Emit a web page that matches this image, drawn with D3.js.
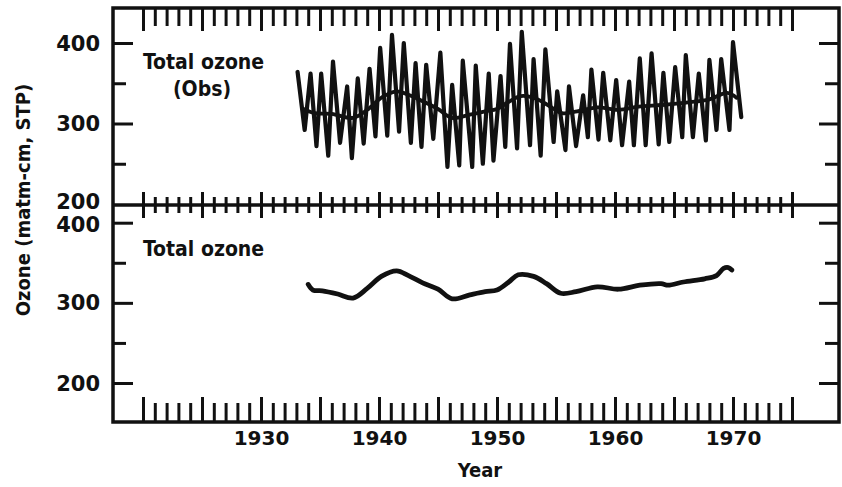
<!DOCTYPE html>
<html>
<head>
<meta charset="utf-8">
<script src="https://cdn.jsdelivr.net/npm/d3@7"></script>
<style>
  body { margin: 0; background: #fff; }
  svg { display: block; }
  .num { font-family: "DejaVu Sans", sans-serif; font-weight: bold; fill: #111; }
  .lbl { font-family: "DejaVu Sans Condensed", "DejaVu Sans", sans-serif; font-stretch: condensed; font-weight: bold; fill: #111; }
</style>
</head>
<body>
<div id="chart"></div>
<script>
const obsYear = [
  1933.1, 1933.7, 1934.2, 1934.7, 1935.1, 1935.7, 1936.1, 1936.7, 1937.3, 1937.7,
  1938.2, 1938.7, 1939.2, 1939.7, 1940.1, 1940.7, 1941.1, 1941.7, 1942.1, 1942.7,
  1943.1, 1943.6, 1944.0, 1944.6, 1945.2, 1945.8, 1946.2, 1946.8, 1947.1, 1947.9,
  1948.2, 1948.8, 1949.3, 1949.7, 1950.3, 1950.7, 1951.1, 1951.7, 1952.1, 1952.8,
  1953.1, 1953.7, 1954.1, 1954.8, 1955.1, 1955.8, 1956.1, 1956.7, 1957.3, 1957.7,
  1958.0, 1958.6, 1959.0, 1959.6, 1960.1, 1960.6, 1961.2, 1961.6, 1962.1, 1962.6,
  1963.1, 1963.7, 1964.1, 1964.6, 1965.1, 1965.7, 1966.0, 1966.6, 1967.1, 1967.7,
  1968.0, 1968.6, 1969.0, 1969.7, 1970.0, 1970.7
];
const obsOzone = [
  364, 292, 362, 272, 362, 260, 377, 276, 346, 257,
  356, 275, 368, 284, 394, 285, 410, 290, 400, 276,
  375, 271, 373, 281, 388, 246, 348, 248, 378, 246,
  372, 250, 362, 254, 359, 271, 399, 269, 414, 273,
  380, 260, 392, 277, 340, 267, 346, 272, 335, 283,
  367, 280, 363, 279, 354, 273, 352, 273, 381, 273,
  387, 274, 363, 277, 370, 283, 385, 283, 362, 279,
  379, 292, 380, 292, 401, 308
];

// smoothed curve drawn through the observations (upper panel)
const obsSmoothYear = [
  1933.6, 1934.5, 1936.0, 1937.8, 1939.0, 1940.3, 1941.5, 1942.6, 1943.8, 1945.0,
  1946.2, 1947.7, 1949.0, 1950.0, 1951.0, 1952.0, 1953.1, 1954.3, 1955.5, 1956.8,
  1958.5, 1960.3, 1962.0, 1964.0, 1966.0, 1968.0, 1969.5, 1970.3
];
const obsSmoothOzone = [
  318, 313, 312, 307, 317, 333, 340, 335, 327, 318,
  307, 311, 315, 318, 327, 334, 332, 323, 313, 315,
  320, 317, 321, 323, 326, 330, 338, 332
];

// total ozone (lower panel)
const totalYear = [
  1934.0, 1934.4, 1935.2, 1936.5, 1937.8, 1939.0, 1940.2, 1941.5, 1942.5, 1943.7,
  1945.0, 1946.2, 1947.7, 1949.0, 1950.0, 1951.0, 1951.8, 1953.1, 1954.2, 1955.4,
  1956.7, 1958.5, 1960.3, 1962.1, 1963.9, 1964.5, 1965.8, 1967.6, 1968.6, 1969.2,
  1969.6, 1969.9
];
const totalOzone = [
  323, 316, 315, 311, 306, 318, 333, 340, 334, 325,
  317, 305, 310, 314, 316, 326, 335, 333, 324, 312,
  314, 320, 317, 322, 324, 322, 326, 330, 334, 343,
  344, 341
];

const yearTicks = [1930, 1940, 1950, 1960, 1970];
const ozoneMajor = [200, 300, 400];
const ozoneMinor = [250, 350];

const W = 842, H = 487;
const frame = {left: 113, right: 839, top: 8, mid: 205, bottom: 422};

const svg = d3.select("#chart").append("svg")
  .attr("width", W)
  .attr("height", H);

const x = d3.scaleLinear().domain([1920, 1975]).range([143, 792]);
const yTop = d3.scaleLinear().domain([200, 400]).range([204, 43]);
const yBot = d3.scaleLinear().domain([200, 400]).range([383, 222.7]);

const allYears = d3.range(1920, 1976);
const fiveYears = d3.range(1920, 1976, 5);

function ticks(g) {
  g.select(".domain").remove();
  g.selectAll(".tick line").attr("stroke", "#111").attr("stroke-width", 3);
  g.selectAll(".tick text").remove();
}

// year ticks: top edge, middle divider, bottom edge
svg.append("g").attr("transform", `translate(0,${frame.top})`)
  .call(d3.axisBottom(x).tickValues(allYears).tickSize(18)).call(ticks);
svg.append("g").attr("transform", `translate(0,${frame.top})`)
  .call(d3.axisBottom(x).tickValues(fiveYears).tickSize(23)).call(ticks);

svg.append("g").attr("transform", `translate(0,${frame.mid - 8})`)
  .call(d3.axisBottom(x).tickValues(allYears).tickSize(16)).call(ticks);
svg.append("g").attr("transform", `translate(0,${frame.mid - 13})`)
  .call(d3.axisBottom(x).tickValues(fiveYears).tickSize(26)).call(ticks);

svg.append("g").attr("transform", `translate(0,${frame.bottom})`)
  .call(d3.axisTop(x).tickValues(allYears).tickSize(19)).call(ticks);
svg.append("g").attr("transform", `translate(0,${frame.bottom})`)
  .call(d3.axisTop(x).tickValues(fiveYears).tickSize(25)).call(ticks);

// ozone ticks on both sides of each panel
[[yTop, ozoneMajor.filter(v => v > 200)], [yBot, ozoneMajor]].forEach(([y, major]) => {
  svg.append("g").attr("transform", `translate(${frame.left},0)`)
    .call(d3.axisRight(y).tickValues(major).tickSize(20)).call(ticks);
  svg.append("g").attr("transform", `translate(${frame.left},0)`)
    .call(d3.axisRight(y).tickValues(ozoneMinor).tickSize(13)).call(ticks);
  svg.append("g").attr("transform", `translate(${frame.right},0)`)
    .call(d3.axisLeft(y).tickValues(major).tickSize(20)).call(ticks);
  svg.append("g").attr("transform", `translate(${frame.right},0)`)
    .call(d3.axisLeft(y).tickValues(ozoneMinor).tickSize(14)).call(ticks);
});

// frame and divider
svg.append("rect")
  .attr("x", frame.left).attr("y", frame.top)
  .attr("width", frame.right - frame.left).attr("height", frame.bottom - frame.top)
  .attr("fill", "none").attr("stroke", "#111").attr("stroke-width", 3.5);
svg.append("line")
  .attr("x1", frame.left).attr("x2", frame.right)
  .attr("y1", frame.mid).attr("y2", frame.mid)
  .attr("stroke", "#111").attr("stroke-width", 3.5);

// tick labels
function labels(g) {
  g.select(".domain").remove();
  g.selectAll(".tick line").remove();
  g.selectAll(".tick text").attr("class", "num").attr("fill", "#111");
}

svg.append("g").attr("transform", `translate(${frame.left},0)`)
  .call(d3.axisLeft(yTop).tickValues(ozoneMajor).tickSize(0).tickPadding(13))
  .call(labels)
  .style("font-size", "21px")
  .selectAll(".tick text").attr("dy", d => d === 200 ? "0.2em" : "0.34em");
svg.append("g").attr("transform", `translate(${frame.left},0)`)
  .call(d3.axisLeft(yBot).tickValues(ozoneMajor).tickSize(0).tickPadding(13))
  .call(labels)
  .style("font-size", "21px")
  .selectAll(".tick text").attr("dy", d => d === 400 ? "0.42em" : "0.34em");

svg.append("g").attr("transform", `translate(0,${frame.bottom})`)
  .call(d3.axisBottom(x).tickValues(yearTicks).tickFormat(d3.format("d")).tickSize(0).tickPadding(9))
  .call(labels)
  .style("font-size", "20px");

// data lines
const line = y => d3.line().x(d => x(d[0])).y(d => y(d[1]));

svg.append("path")
  .datum(d3.zip(obsYear, obsOzone))
  .attr("d", line(yTop))
  .attr("fill", "none").attr("stroke", "#111")
  .attr("stroke-width", 4.2).attr("stroke-linejoin", "round").attr("stroke-linecap", "round");

svg.append("path")
  .datum(d3.zip(obsSmoothYear, obsSmoothOzone))
  .attr("d", line(yTop).curve(d3.curveCatmullRom))
  .attr("fill", "none").attr("stroke", "#111")
  .attr("stroke-width", 3.8).attr("stroke-linejoin", "round").attr("stroke-linecap", "round");

svg.append("path")
  .datum(d3.zip(totalYear, totalOzone))
  .attr("d", line(yBot).curve(d3.curveCatmullRom))
  .attr("fill", "none").attr("stroke", "#111")
  .attr("stroke-width", 4.8).attr("stroke-linejoin", "round").attr("stroke-linecap", "round");

// panel labels and axis titles
svg.append("text").attr("class", "lbl")
  .attr("x", 143).attr("y", 69).style("font-size", "21px")
  .text("Total ozone");
svg.append("text").attr("class", "lbl")
  .attr("x", 202).attr("y", 96).attr("text-anchor", "middle").style("font-size", "21px")
  .text("(Obs)");
svg.append("text").attr("class", "lbl")
  .attr("x", 143).attr("y", 256).style("font-size", "21px")
  .text("Total ozone");

svg.append("text").attr("class", "lbl")
  .attr("x", 480).attr("y", 477).attr("text-anchor", "middle").style("font-size", "20px")
  .text("Year");

svg.append("text").attr("class", "lbl")
  .attr("transform", "translate(30,200) rotate(-90)")
  .attr("text-anchor", "middle").style("font-size", "20px")
  .text("Ozone (matm-cm, STP)");
</script>
</body>
</html>
